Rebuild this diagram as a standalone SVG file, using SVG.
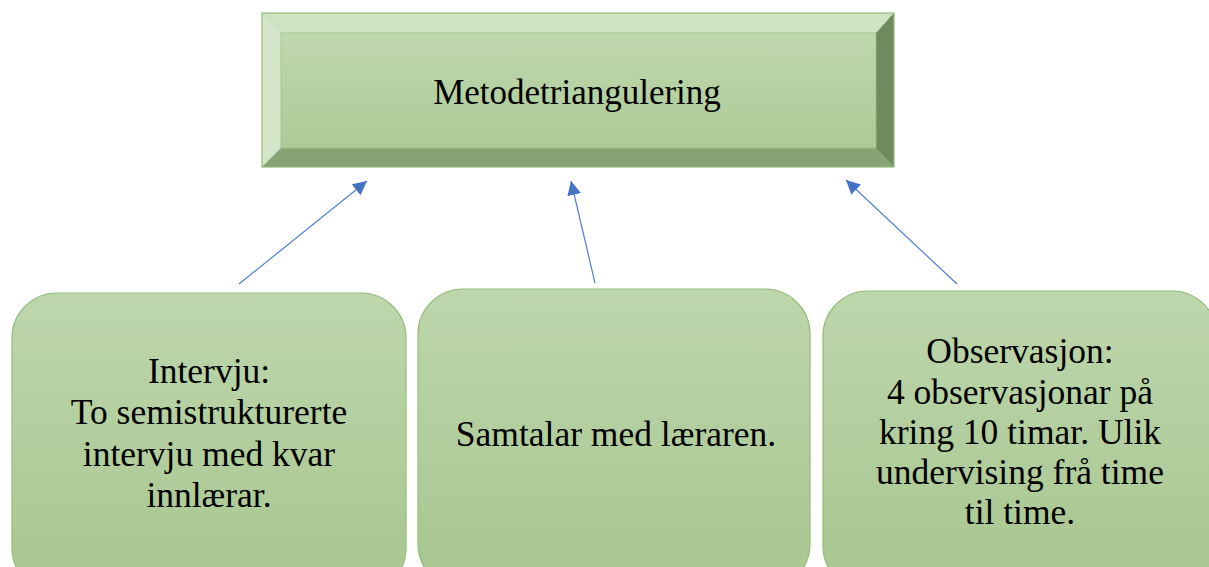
<svg xmlns="http://www.w3.org/2000/svg" width="1209" height="567" viewBox="0 0 1209 567">
<defs>
<style>
.t{font-family:"Liberation Serif","Times New Roman",serif;fill:#000;text-anchor:middle}
.box{fill:url(#g2);stroke:#93bd78;stroke-width:1.2}
.con{stroke:#4f7fd0;stroke-width:1.2;fill:none;marker-end:url(#ah)}
</style>
<linearGradient id="g1" x1="0" y1="0" x2="0" y2="1"><stop offset="0" stop-color="#c2dab1"/><stop offset="1" stop-color="#a9c893"/></linearGradient>
<linearGradient id="g2" x1="0" y1="0" x2="0" y2="1"><stop offset="0" stop-color="#bdd6ac"/><stop offset="1" stop-color="#a7c68f"/></linearGradient>
<marker id="ah" markerWidth="14" markerHeight="14" refX="12" refY="6" orient="auto" markerUnits="userSpaceOnUse" viewBox="0 0 12 12"><path d="M0,0 L12,6 L0,12 z" fill="#4472c4"/></marker>
</defs>
<g id="top">
<rect x="262" y="13" width="632" height="154" fill="url(#g1)"/>
<polygon points="262,13 894,13 876,33 281,33" fill="#cfe2c2"/>
<polygon points="262,13 281,33 281,148 262,167" fill="#d5e5ca"/>
<polygon points="894,13 894,167 876,148 876,33" fill="#6f8b5d"/>
<polygon points="262,167 281,148 876,148 894,167" fill="#87a474"/>
<rect x="262" y="13" width="632" height="154" fill="none" stroke="#93bd78" stroke-width="1.2"/>
<rect x="281" y="33" width="595" height="115" fill="none" stroke="#9cc383" stroke-width="0.8"/>
<text class="t" x="577" y="104" font-size="35">Metodetriangulering</text>
</g>
<g id="n1">
<rect class="box" x="12" y="293" width="394" height="300" rx="45"/>
<text class="t" font-size="35.5"><tspan x="209" y="383">Intervju:</tspan><tspan x="209" y="424">To semistrukturerte</tspan><tspan x="209" y="466">intervju med kvar</tspan><tspan x="209" y="507">innlærar.</tspan></text>
</g>
<g id="n2">
<rect class="box" x="418" y="289" width="392" height="300" rx="45"/>
<text class="t" font-size="35.5" x="616" y="446">Samtalar med læraren.</text>
</g>
<g id="n3">
<rect class="box" x="823" y="291" width="394" height="300" rx="45"/>
<text class="t" font-size="35.5"><tspan x="1020" y="363">Observasjon:</tspan><tspan x="1020" y="404">4 observasjonar på</tspan><tspan x="1020" y="444">kring 10 timar. Ulik</tspan><tspan x="1020" y="484">undervising frå time</tspan><tspan x="1020" y="524">til time.</tspan></text>
</g>
<g id="connectors">
<line class="con" x1="239" y1="284" x2="367" y2="181"/>
<line class="con" x1="595" y1="283" x2="571" y2="181"/>
<line class="con" x1="957" y1="284" x2="846" y2="180"/>
</g>
</svg>
